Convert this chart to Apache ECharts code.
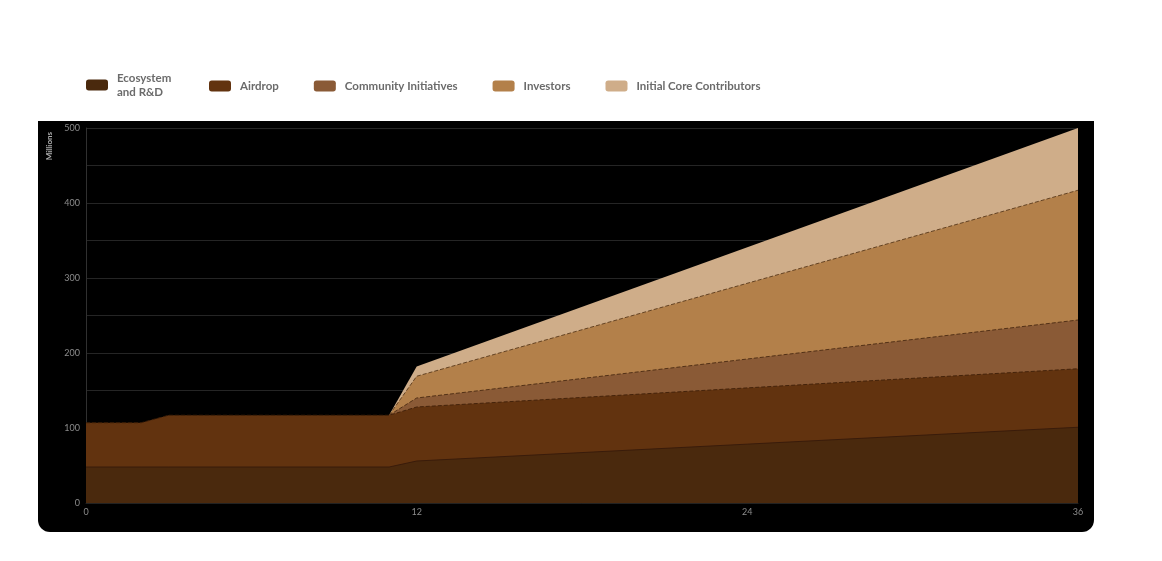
<!DOCTYPE html>
<html>
<head>
<meta charset="utf-8">
<script src="https://cdn.jsdelivr.net/npm/echarts@6/dist/echarts.min.js"></script>
<style>
  html, body { margin: 0; padding: 0; background: #ffffff; }
  #panel { position: absolute; left: 38px; top: 121px; width: 1056px; height: 411px; background: #000; border-radius: 0 0 12px 12px; }
  #chart { position: absolute; left: 0; top: 0; width: 1162px; height: 561px; }
</style>
</head>
<body>
<div id="panel"></div>
<div id="chart"></div>
<script>
// Months where the unlock schedule changes slope
const months = [0, 2, 3, 11, 12, 36];
const seriesNames = ['Ecosystem and R&D', 'Airdrop', 'Community Initiatives', 'Investors', 'Initial Core Contributors'];
// Values in millions (each layer's own amount; layers are stacked)
const ecosystem = [48, 48, 48, 48, 56, 101];
const airdrop = [59, 59, 69, 69, 72, 78];
const community = [0, 0, 0, 0, 12, 65];
const investors = [0, 0, 0, 0, 29, 173];
const coreContributors = [0, 0, 0, 0, 13, 83];
const xTicks = [0, 12, 24, 36];
const yTicks = [0, 100, 200, 300, 400, 500];

const colors = ['#4a290d', '#62330f', '#8a5a36', '#b3804a', '#cfad89'];
const lineColors = ['#36190a', '#3f1f08', '#4a2a12', '#5a3a1c', '#cfad89'];
const valuesList = [ecosystem, airdrop, community, investors, coreContributors];

// running totals (stack) computed from the layer values
const cumulative = [];
let running = months.map(function () { return 0; });
valuesList.forEach(function (vals) {
  running = running.map(function (r, j) { return r + vals[j]; });
  cumulative.push(running.slice());
});

function seriesData(i) {
  const vals = valuesList[i];
  const out = [];
  months.forEach(function (m, j) {
    // skip points before a layer starts (zero now and zero next)
    const next = j + 1 < vals.length ? vals[j + 1] : 1;
    if (vals[j] === 0 && next === 0) return;
    out.push([m, cumulative[i][j]]);
  });
  return out;
}

const legendText = { color: '#6b6b6b', fontFamily: 'Lato', fontWeight: 'bold', fontSize: 11.5, lineHeight: 14, padding: [0, 0, 0, 4] };

const chart = echarts.init(document.getElementById('chart'), null, { renderer: 'canvas' });
chart.setOption({
  backgroundColor: 'transparent',
  animation: false,
  color: colors,
  legend: [{
    left: 86, top: 71, padding: 0,
    itemWidth: 22, itemHeight: 11,
    icon: 'roundRect',
    data: [seriesNames[0]],
    formatter: function () { return 'Ecosystem\nand R&D'; },
    textStyle: legendText
  }, {
    left: 209, top: 79, padding: 0,
    itemWidth: 22, itemHeight: 11, itemGap: 35,
    icon: 'roundRect',
    data: seriesNames.slice(1),
    textStyle: legendText
  }],
  grid: { left: 86, right: 84, top: 128, bottom: 58 },
  xAxis: {
    type: 'value', min: 0, max: 36, interval: 12,
    axisLine: { show: true, lineStyle: { color: '#222' } },
    axisTick: { show: false },
    splitLine: { show: false },
    axisLabel: { color: '#8c8c8c', fontSize: 9, fontFamily: 'Lato', margin: 5,
      formatter: function (v) { return xTicks.indexOf(v) >= 0 ? String(v) : ''; } }
  },
  yAxis: {
    type: 'value', min: 0, max: 500, interval: 50,
    axisLine: { show: true, lineStyle: { color: '#303030' } },
    axisTick: { show: false },
    splitLine: { show: true, lineStyle: { color: '#252525', width: 1 } },
    axisLabel: { color: '#8c8c8c', fontSize: 9, fontFamily: 'Lato', margin: 6,
      formatter: function (v) { return yTicks.indexOf(v) >= 0 ? String(v) : ''; } }
  },
  graphic: [{
    type: 'text', left: 45, top: 132, rotation: Math.PI / 2,
    style: { text: 'Millions', fill: '#b0b0b0', font: 'bold 8px Lato' }
  }],
  series: seriesNames.map(function (name, i) {
    return {
      name: name,
      type: 'line',
      symbol: 'none',
      smooth: false,
      data: seriesData(i),
      lineStyle: { width: 1, type: i === 0 ? 'solid' : 'dashed', color: lineColors[i], opacity: i === 4 ? 0 : 0.9 },
      areaStyle: { color: colors[i], opacity: 1 },
      emphasis: { disabled: true },
      z: 10 - i
    };
  })
});
</script>
</body>
</html>
